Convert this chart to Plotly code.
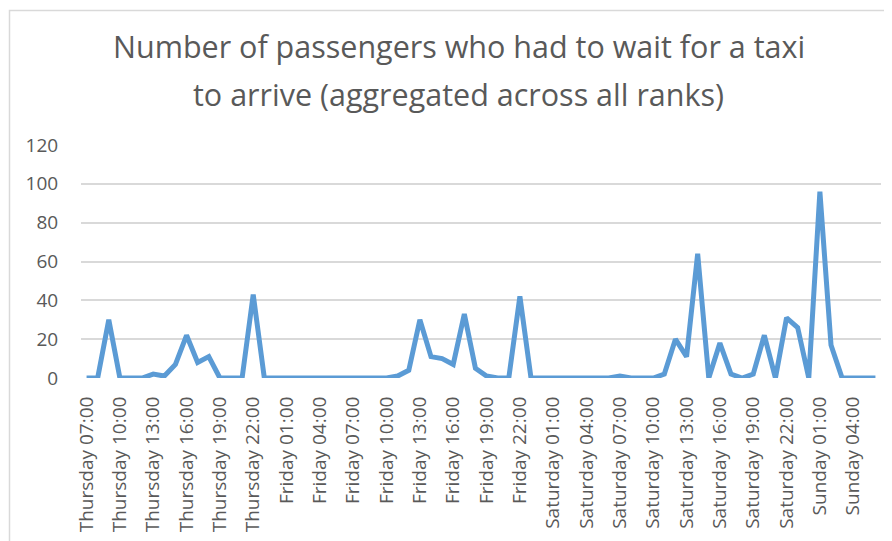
import plotly.graph_objects as go

days = ["Thursday"] * 17 + ["Friday"] * 24 + ["Saturday"] * 24 + ["Sunday"] * 7
hours = list(range(7, 24)) + list(range(24)) + list(range(24)) + list(range(7))
categories = [f"{d} {h:02d}:00" for d, h in zip(days, hours)]

values = [
    0, 0, 30, 0, 0, 0, 2, 1, 7, 22, 8, 11, 0, 0, 0, 43, 0,          # Thursday 07-23
    0, 0, 0, 0, 0, 0, 0, 0, 0, 0, 0, 1, 4, 30, 11, 10, 7, 33, 5, 1,  # Friday 00-19
    0, 0, 42, 0,                                                     # Friday 20-23
    0, 0, 0, 0, 0, 0, 0, 1, 0, 0, 0, 2, 20, 11, 64, 0, 18, 2, 0, 2,  # Saturday 00-19
    22, 0, 31, 26,                                                   # Saturday 20-23
    0, 96, 17, 0, 0, 0, 0,                                           # Sunday 00-06
]

tick_labels = categories[::3]
y_ticks = [0, 20, 40, 60, 80, 100, 120]

title_line1 = "Number of passengers who had to wait for a taxi"
title_line2 = "to arrive (aggregated across all ranks)"

# page body has an 8px default margin; work in screen pixels and offset
OFF = 8
SW, SH = 892, 541
W, H = SW - OFF, SH - OFF
# plot area in screen pixels: x 81..881, y 145..378
L, R, T, B = 81 - OFF, SW - 881, 145 - OFF, SH - 378

font_fam = "Open Sans, Noto Sans, sans-serif"


def py(ypix):
    return (H - B - (ypix - OFF)) / (H - T - B)


def px(xpix):
    return ((xpix - OFF) - L) / (W - L - R)


fig = go.Figure()
fig.add_trace(go.Scatter(
    x=categories, y=values, mode="lines",
    line=dict(color="#5b9bd5", width=5),
    hoverinfo="x+y",
))

fig.update_layout(
    width=W, height=H,
    margin=dict(l=L, r=R, t=T, b=B),
    paper_bgcolor="white", plot_bgcolor="white",
    showlegend=False,
    font=dict(family=font_fam, color="#595959"),
    xaxis=dict(
        type="category",
        range=[-0.5, len(categories) - 0.5],
        tickmode="array", tickvals=tick_labels, ticktext=tick_labels,
        tickangle=-90,
        tickfont=dict(size=19, color="#595959"),
        showgrid=False, zeroline=False,
        showline=False,
        ticks="outside", ticklen=10, tickcolor="rgba(0,0,0,0)",
        automargin=False,
    ),
    yaxis=dict(
        range=[0, 120],
        tickmode="array", tickvals=y_ticks,
        tickfont=dict(size=19, color="#595959"),
        showgrid=True, gridcolor="#d9d9d9", gridwidth=1.5,
        zeroline=False, showline=False,
        ticks="outside", ticklen=18, tickcolor="rgba(0,0,0,0)",
        automargin=False,
    ),
)

fig.add_annotation(text=title_line1, xref="paper", yref="paper", x=px(459), y=py(46),
                   showarrow=False, xanchor="center", yanchor="middle",
                   font=dict(size=30.5, color="#595959", family=font_fam))
fig.add_annotation(text=title_line2, xref="paper", yref="paper", x=px(458), y=py(94),
                   showarrow=False, xanchor="center", yanchor="middle",
                   font=dict(size=30.5, color="#595959", family=font_fam))

# chart frame border
fig.add_shape(type="rect", xref="paper", yref="paper",
              x0=px(9.5), x1=px(900), y0=py(560), y1=py(10.5),
              line=dict(color="#d9d9d9", width=1.5), fillcolor="rgba(0,0,0,0)", layer="below")

fig.write_html("out.html")
